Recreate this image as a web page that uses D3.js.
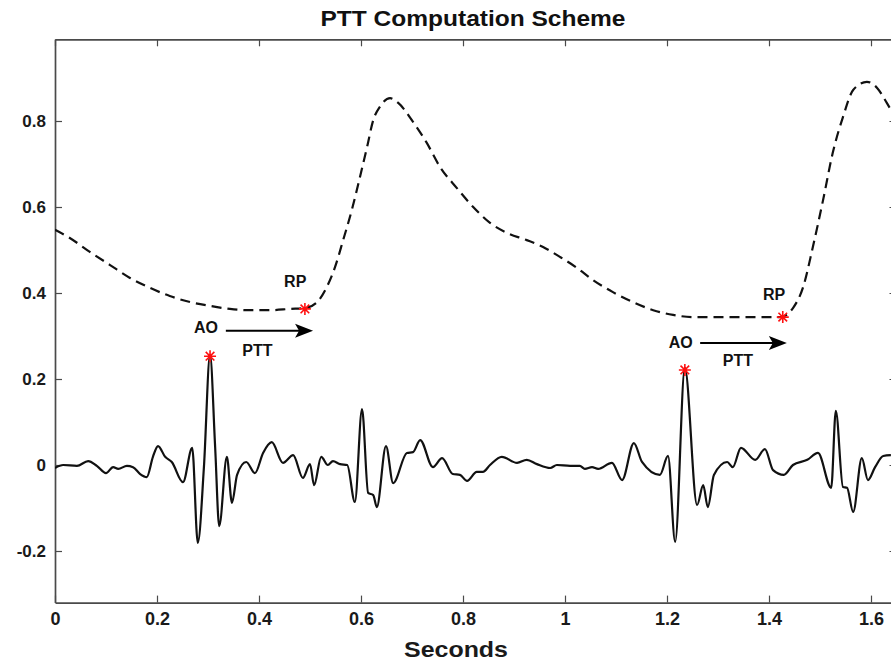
<!DOCTYPE html>
<html>
<head>
<meta charset="utf-8">
<script src="https://cdn.jsdelivr.net/npm/d3@7"></script>
<style>
  html, body { margin: 0; padding: 0; background: #fff; }
  svg { display: block; font-family: "Liberation Sans", Arial, Helvetica, sans-serif; }
</style>
</head>
<body>
<svg id="chart" width="891" height="664"></svg>
<script>
// ---------- data ----------
const titleText = "PTT Computation Scheme";
const xLabelText = "Seconds";

const xTicks = [0, 0.2, 0.4, 0.6, 0.8, 1, 1.2, 1.4, 1.6];
const xTickLabels = ["0", "0.2", "0.4", "0.6", "0.8", "1", "1.2", "1.4", "1.6"];
const yTicks = [-0.2, 0, 0.2, 0.4, 0.6, 0.8];
const yTickLabels = ["-0.2", "0", "0.2", "0.4", "0.6", "0.8"];
const xLimits = [0, 1.65];
const yLimits = [-0.32, 0.99];

// ECG-derived (solid) signal: time (s) and amplitude
const ecgTime = [0.000,0.016,0.043,0.065,0.082,0.100,0.114,0.124,0.141,0.153,0.167,0.180,0.192,0.202,0.216,0.229,0.251,0.269,0.280,0.292,0.304,0.314,0.322,0.337,0.347,0.357,0.375,0.392,0.408,0.425,0.447,0.467,0.486,0.500,0.508,0.522,0.535,0.545,0.559,0.573,0.588,0.602,0.614,0.624,0.631,0.649,0.663,0.690,0.702,0.716,0.741,0.759,0.780,0.794,0.808,0.827,0.839,0.853,0.876,0.906,0.925,0.945,0.971,0.984,1.010,1.029,1.039,1.053,1.065,1.092,1.112,1.135,1.151,1.186,1.202,1.216,1.235,1.259,1.271,1.280,1.292,1.318,1.329,1.345,1.373,1.392,1.408,1.429,1.447,1.475,1.496,1.522,1.531,1.545,1.553,1.565,1.582,1.594,1.608,1.624,1.639];
const ecgValue = [-0.007,0.000,-0.002,0.009,-0.002,-0.019,-0.005,-0.009,-0.002,-0.005,-0.021,-0.028,0.019,0.044,0.019,0.007,-0.040,0.040,-0.181,-0.005,0.256,0.042,-0.142,0.019,-0.088,-0.023,0.007,-0.019,0.028,0.053,0.005,0.023,-0.030,0.002,-0.047,0.019,0.000,0.009,0.002,0.000,-0.086,0.130,-0.065,-0.070,-0.098,0.044,-0.042,0.028,0.030,0.058,-0.005,0.016,-0.021,-0.023,-0.037,-0.016,-0.016,0.000,0.019,0.005,0.012,0.002,-0.007,0.000,-0.002,-0.002,-0.009,-0.005,-0.009,0.005,-0.035,0.051,0.007,-0.023,0.021,-0.179,0.226,-0.093,-0.047,-0.098,-0.023,0.007,-0.005,0.040,0.012,0.037,-0.012,-0.023,0.000,0.012,0.028,-0.053,0.126,-0.051,-0.053,-0.109,0.016,-0.035,-0.005,0.021,0.023];

// pulse (dashed) signal: time (s) and amplitude
const pulseTime = [0.000,0.029,0.069,0.108,0.147,0.186,0.225,0.265,0.304,0.343,0.382,0.422,0.461,0.490,0.514,0.533,0.549,0.565,0.582,0.598,0.612,0.624,0.637,0.657,0.673,0.702,0.729,0.755,0.788,0.820,0.853,0.886,0.925,0.957,0.990,1.024,1.055,1.094,1.133,1.173,1.212,1.251,1.290,1.329,1.369,1.422,1.447,1.467,1.486,1.506,1.525,1.545,1.565,1.592,1.612,1.631,1.639];
const pulseValue = [0.547,0.528,0.495,0.465,0.435,0.412,0.393,0.379,0.370,0.363,0.360,0.360,0.363,0.365,0.379,0.414,0.460,0.523,0.593,0.670,0.740,0.802,0.833,0.853,0.842,0.798,0.749,0.693,0.644,0.600,0.563,0.540,0.523,0.507,0.484,0.458,0.430,0.402,0.379,0.360,0.349,0.344,0.344,0.344,0.344,0.344,0.365,0.414,0.507,0.616,0.726,0.809,0.872,0.891,0.877,0.842,0.826];

// marked points (red asterisks)
const markerTime = [0.304, 0.490, 1.235, 1.427];
const markerValue = [0.253, 0.363, 0.221, 0.344];

// text annotations (data coordinates of the text anchor)
const noteText = ["AO", "RP", "PTT", "AO", "RP", "PTT"];
const noteTime = [0.296, 0.471, 0.397, 1.227, 1.410, 1.339];
const noteValue = [0.307, 0.414, 0.253, 0.272, 0.384, 0.230];

// arrows (PTT): start time, end time, level
const arrowStart = [0.335, 1.265];
const arrowEnd = [0.506, 1.435];
const arrowLevel = [0.312, 0.284];

// ---------- drawing ----------
const svg = d3.select("#chart");
const padL = 55, padR = 896.5, padT = 39.3, padB = 602.6;

const x = d3.scaleLinear().domain(xLimits).range([padL, padR]);
const y = d3.scaleLinear().domain(yLimits).range([padB, padT]);

const axisColor = "#4a4a4a";
const tickLen = 7;

svg.append("defs").append("clipPath").attr("id", "plotclip")
  .append("rect").attr("x", padL).attr("y", padT)
  .attr("width", padR - padL).attr("height", padB - padT);

function styleAxis(g, showLabels, fontSize) {
  g.select(".domain").attr("stroke", axisColor).attr("stroke-width", 1.7);
  g.selectAll(".tick line").attr("stroke", axisColor).attr("stroke-width", 1.2);
  g.selectAll(".tick text")
    .attr("fill", "#1a1a1a")
    .style("font-weight", "bold")
    .style("font-size", fontSize + "px");
  if (!showLabels) g.selectAll(".tick text").remove();
}

const xAxisG = svg.append("g").attr("transform", `translate(0,${padB})`)
  .call(d3.axisBottom(x).tickValues(xTicks).tickSizeInner(-tickLen).tickSizeOuter(0)
    .tickPadding(10).tickFormat((d, i) => xTickLabels[i]));
styleAxis(xAxisG, true, 18);

const xTopG = svg.append("g").attr("transform", `translate(0,${padT})`)
  .call(d3.axisTop(x).tickValues(xTicks).tickSizeInner(-tickLen).tickSizeOuter(0).tickFormat(""));
styleAxis(xTopG, false, 18);

const yAxisG = svg.append("g").attr("transform", `translate(${padL},0)`)
  .call(d3.axisLeft(y).tickValues(yTicks).tickSizeInner(-tickLen).tickSizeOuter(0)
    .tickPadding(9).tickFormat((d, i) => yTickLabels[i]));
styleAxis(yAxisG, true, 17);

const yRightG = svg.append("g").attr("transform", `translate(${padR},0)`)
  .call(d3.axisRight(y).tickValues(yTicks).tickSizeInner(-tickLen).tickSizeOuter(0).tickFormat(""));
styleAxis(yRightG, false, 17);

const plot = svg.append("g").attr("clip-path", "url(#plotclip)");

const line = d3.line()
  .x(d => x(d[0]))
  .y(d => y(d[1]))
  .curve(d3.curveMonotoneX);

const pulseData = pulseTime.map((t, i) => [t, pulseValue[i]]);
const ecgData = ecgTime.map((t, i) => [t, ecgValue[i]]);

plot.append("path").datum(pulseData)
  .attr("d", line)
  .attr("fill", "none")
  .attr("stroke", "#111")
  .attr("stroke-width", 2.2)
  .attr("stroke-dasharray", "10,6");

plot.append("path").datum(ecgData)
  .attr("d", line)
  .attr("fill", "none")
  .attr("stroke", "#111")
  .attr("stroke-width", 2.2)
  .attr("stroke-linejoin", "round");

const r = 6;
const starPath = `M${-r},0L${r},0M0,${-r}L0,${r}M${-r*0.72},${-r*0.72}L${r*0.72},${r*0.72}M${-r*0.72},${r*0.72}L${r*0.72},${-r*0.72}`;
svg.append("g").selectAll("path.star")
  .data(markerTime.map((t, i) => [t, markerValue[i]]))
  .join("path")
  .attr("class", "star")
  .attr("transform", d => `translate(${x(d[0])},${y(d[1])})`)
  .attr("d", starPath)
  .attr("stroke", "#ff1010")
  .attr("stroke-width", 1.6)
  .attr("fill", "none");

const arrows = arrowStart.map((s, i) => ({ s, e: arrowEnd[i], v: arrowLevel[i] }));
const ag = svg.append("g");
arrows.forEach(a => {
  const x0 = x(a.s), x1 = x(a.e), yy = y(a.v);
  const headLen = 18, headHalf = 7, notch = 4;
  ag.append("line")
    .attr("x1", x0).attr("x2", x1 - headLen + notch + 1)
    .attr("y1", yy).attr("y2", yy)
    .attr("stroke", "#000").attr("stroke-width", 2);
  ag.append("path")
    .attr("d", `M${x1},${yy}L${x1 - headLen},${yy - headHalf}L${x1 - headLen + notch},${yy}L${x1 - headLen},${yy + headHalf}Z`)
    .attr("fill", "#000");
});

svg.append("g").selectAll("text")
  .data(noteText.map((t, i) => ({ t, x: noteTime[i], v: noteValue[i] })))
  .join("text")
  .attr("x", d => x(d.x))
  .attr("y", d => y(d.v))
  .attr("text-anchor", "middle")
  .style("font-weight", "bold")
  .style("font-size", "16px")
  .attr("fill", "#111")
  .text(d => d.t);

svg.append("text")
  .attr("x", 473).attr("y", 26)
  .attr("text-anchor", "middle")
  .attr("textLength", 305)
  .attr("lengthAdjust", "spacingAndGlyphs")
  .style("font-weight", "bold")
  .style("font-size", "22px")
  .attr("fill", "#111")
  .text(titleText);

svg.append("text")
  .attr("x", 456).attr("y", 657)
  .attr("text-anchor", "middle")
  .attr("textLength", 104)
  .attr("lengthAdjust", "spacingAndGlyphs")
  .style("font-weight", "bold")
  .style("font-size", "22px")
  .attr("fill", "#1a1a1a")
  .text(xLabelText);
</script>
</body>
</html>
